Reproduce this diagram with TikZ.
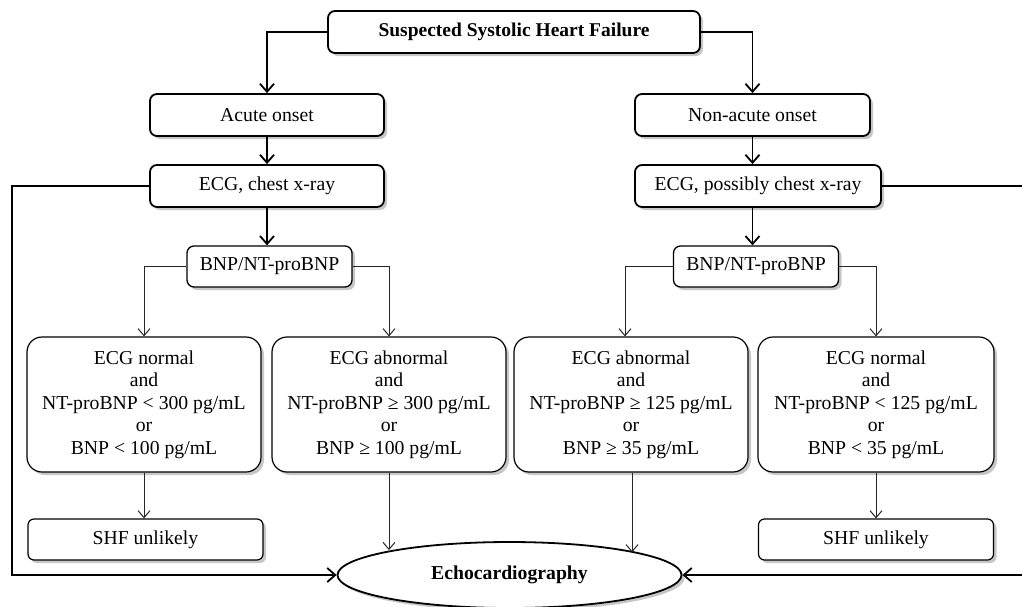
\documentclass[tikz,border=0pt]{standalone}
\usepackage{fontspec}
\setmainfont{Liberation Serif}
\usetikzlibrary{arrows.meta,shapes.geometric,shadows,calc}
\begin{document}
\begin{tikzpicture}[x=1pt,y=-1pt,
  shad/.style={drop shadow={shadow xshift=3pt,shadow yshift=-3pt,fill=black,opacity=0.22}},
  txt/.style={font=\fontsize{19.7}{22.5}\selectfont},
  mainbox/.style={shad, draw, rounded corners=7pt, line width=1.8pt, fill=white, align=center, inner sep=0pt, minimum height=42pt, txt},
  bnpbox/.style={shad, draw, rounded corners=7pt, line width=1.3pt, fill=white, align=center, inner sep=0pt, minimum width=165pt, minimum height=41pt, txt},
  condbox/.style={shad, draw, rounded corners=15pt, line width=1.2pt, fill=white, align=center, inner sep=0pt, minimum width=234pt, minimum height=135pt, txt},
  shfbox/.style={shad, draw, rounded corners=6pt, line width=1.2pt, fill=white, align=center, inner sep=0pt, minimum width=235pt, minimum height=41pt, txt},
  echobox/.style={shad, draw, ellipse, line width=1.8pt, fill=white, inner sep=0pt, minimum width=344pt, minimum height=66pt, txt},
  thickarr/.style={line width=1.8pt, -{Straight Barb[length=8pt,width=14pt,line width=1.8pt]}},
  thinarr/.style={line width=1pt, draw=black!85, -{Straight Barb[length=7pt,width=12pt,line width=1pt]}}
]
\useasboundingbox (0,0) rectangle (1022,606);
\clip (0,0) rectangle (1022,606);

% nodes
\node[mainbox, minimum width=372pt, font=\fontsize{19.5}{22.5}\selectfont] (top) at (514,32) {\textbf{Suspected Systolic Heart Failure}};
\node[mainbox, minimum width=234pt] (acute) at (267,115) {Acute onset};
\node[mainbox, minimum width=234pt] (ecg1) at (267,186) {ECG, chest x-ray};
\node[bnpbox] (bnp1) at (269.5,266.5) {BNP/NT-proBNP};
\node[mainbox, minimum width=235pt] (nonacute) at (752.5,115) {Non-acute onset};
\node[mainbox, minimum width=246pt] (ecg2) at (758,186) {ECG, possibly chest x-ray};
\node[bnpbox] (bnp2) at (756,266.5) {BNP/NT-proBNP};

\node[condbox] (c1) at (144,404.5) {ECG normal\\and\\NT-proBNP < 300 pg/mL\\or\\BNP < 100 pg/mL};
\node[condbox] (c2) at (389,404.5) {ECG abnormal\\and\\NT-proBNP ≥ 300 pg/mL\\or\\BNP ≥ 100 pg/mL};
\node[condbox] (c3) at (631,404.5) {ECG abnormal\\and\\NT-proBNP ≥ 125 pg/mL\\or\\BNP ≥ 35 pg/mL};
\node[condbox, minimum width=236pt] (c4) at (876,404.5) {ECG normal\\and\\NT-proBNP < 125 pg/mL\\or\\BNP < 35 pg/mL};

\node[shfbox] (shf1) at (145.5,539.5) {SHF unlikely};
\node[shfbox] (shf2) at (876,539.5) {SHF unlikely};
\node[echobox] (echo) at (509.5,575) {\textbf{Echocardiography}};

% helper coordinates
\coordinate (fbL) at (12,380);
\coordinate (fbR) at (1040,380);
\coordinate (c3in) at ($(c3.north)+(-6,0)$);

% connectors
\draw[thickarr] (top.west) -| (acute.north);
\draw[thickarr] (top.east) -| (nonacute.north);
\draw[thickarr] (acute.south) -- (ecg1.north);
\draw[thickarr] (nonacute.south) -- (nonacute.south |- ecg2.north);
\draw[thickarr] (ecg1.south) -- (ecg1.south |- bnp1.north);
\draw[thickarr] (nonacute.south |- ecg2.south) -- (nonacute.south |- bnp2.north);

\draw[thinarr] (bnp1.west) -| (c1.north);
\draw[thinarr] (bnp1.east) -| (c2.north);
\draw[thinarr] (bnp2.west) -| (c3in);
\draw[thinarr] (bnp2.east) -| (c4.north);

\draw[thinarr] (c1.south) -- (c1.south |- shf1.north);
\draw[thinarr] (c4.south) -- (c4.south |- shf2.north);
\draw[thinarr] (c2.south) -- (c2.south |- echo.168.9);
\draw[thinarr] ([xshift=1pt]c3.south) -- ([xshift=1pt]c3.south |- echo.10.7);

\draw[thickarr] (ecg1.west) -| (fbL) |- (echo.west);
\draw[thickarr] (ecg2.east) -| (fbR) |- (echo.east);
\end{tikzpicture}
\end{document}
